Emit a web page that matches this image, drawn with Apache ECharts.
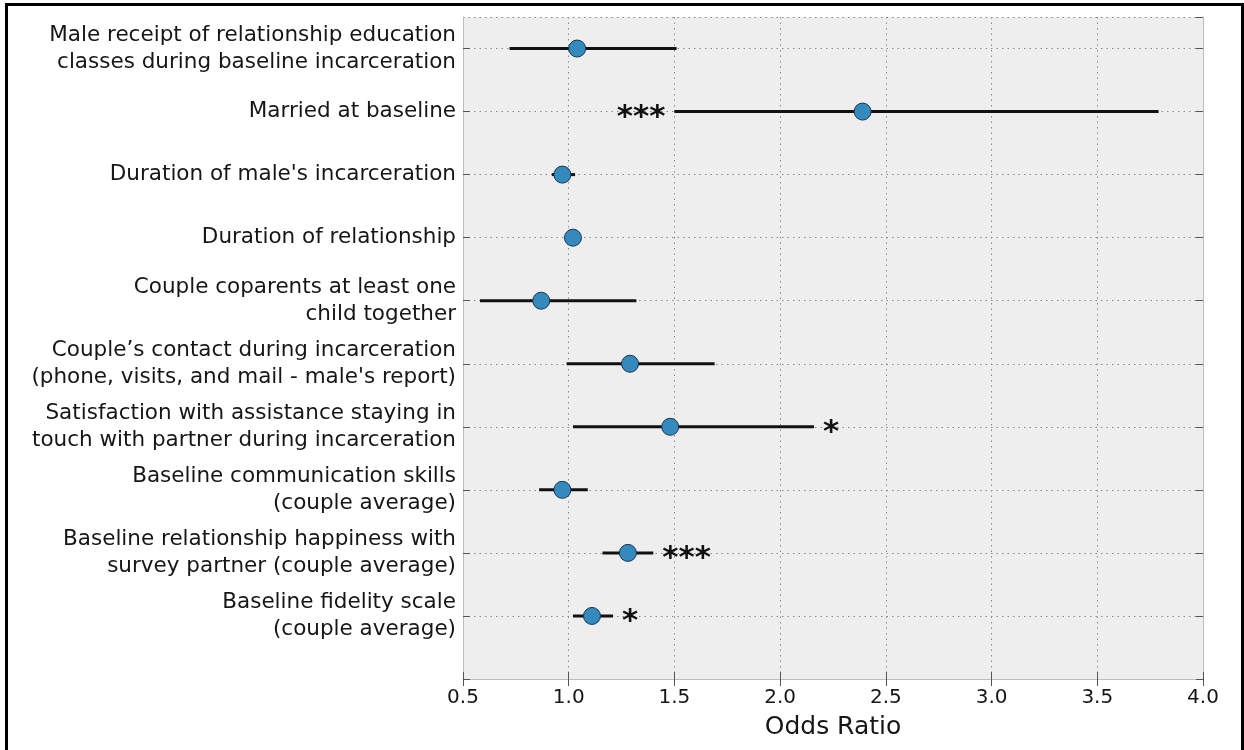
<!DOCTYPE html>
<html>
<head>
<meta charset="utf-8">
<script src="https://cdn.jsdelivr.net/npm/echarts@6/dist/echarts.min.js"></script>
<style>
  html, body { margin: 0; padding: 0; background: #ffffff; }
  #frame {
    position: absolute; left: 5px; top: 3px; width: 1233px; height: 760px;
    border-left: 3px solid #000; border-top: 3px solid #000; border-right: 3px solid #000;
    box-sizing: content-box;
  }
  #chart { position: absolute; left: 0; top: 0; width: 1244px; height: 750px; }
</style>
</head>
<body>
<div id="frame"></div>
<div id="chart"></div>
<script>
// Predictors, top to bottom
const categories = [
  'Male receipt of relationship education\nclasses during baseline incarceration',
  'Married at baseline',
  "Duration of male's incarceration",
  'Duration of relationship',
  'Couple coparents at least one\nchild together',
  'Couple\u2019s contact during incarceration\n(phone, visits, and mail - male\'s report)',
  'Satisfaction with assistance staying in\ntouch with partner during incarceration',
  'Baseline communication skills\n(couple average)',
  'Baseline relationship happiness with\nsurvey partner (couple average)',
  'Baseline fidelity scale\n(couple average)'
];
const oddsRatio = [1.04, 2.39, 0.97, 1.02, 0.87, 1.29, 1.48, 0.97, 1.28, 1.11];
const ciLower   = [0.72, 1.50, 0.92, 0.99, 0.58, 0.99, 1.02, 0.86, 1.16, 1.02];
const ciUpper   = [1.51, 3.79, 1.03, 1.05, 1.32, 1.69, 2.16, 1.09, 1.40, 1.21];
const significance = ['', '***', '', '', '', '', '*', '', '***', '*'];
const xTicks = [0.5, 1.0, 1.5, 2.0, 2.5, 3.0, 3.5, 4.0];

const n = categories.length;
const rowY = i => n - i;  // first predictor drawn at the top

const ciData = categories.map((c, i) => [ciLower[i], ciUpper[i], rowY(i)]);
const pointData = categories.map((c, i) => [oddsRatio[i], rowY(i)]);
const starData = categories.map((c, i) => [ciLower[i], ciUpper[i], rowY(i), significance[i]])
  .filter(d => d[3]);

const FONT = '"DejaVu Sans", "Bitstream Vera Sans", sans-serif';
const tickStyle = { show: true, inside: true, length: 7, lineStyle: { color: '#555', width: 1 } };
const spine = { show: true, lineStyle: { color: '#bdbdbd', width: 1 } };
const gridDots = { show: true, lineStyle: { color: '#8a8a8a', width: 1, type: [1.5, 4] } };

const chart = echarts.init(document.getElementById('chart'), null, { renderer: 'canvas' });

chart.setOption({
  animation: false,
  backgroundColor: 'transparent',
  grid: { left: 463, top: 17, width: 740, height: 662, backgroundColor: '#eeeeee', show: true, borderWidth: 0 },
  xAxis: [
    {
      type: 'value', min: xTicks[0], max: xTicks[xTicks.length - 1], interval: 0.5,
      position: 'bottom',
      name: 'Odds Ratio', nameLocation: 'middle', nameGap: 36,
      nameTextStyle: { fontFamily: FONT, fontSize: 25, color: '#161616' },
      axisLine: spine, axisTick: tickStyle, splitLine: gridDots,
      axisLabel: { fontFamily: FONT, fontSize: 20, color: '#161616', margin: 9,
        formatter: v => v.toFixed(1) }
    },
    {
      type: 'value', min: xTicks[0], max: xTicks[xTicks.length - 1], interval: 0.5,
      position: 'top',
      axisLine: spine, axisTick: tickStyle, splitLine: { show: false }, axisLabel: { show: false }
    }
  ],
  yAxis: [
    {
      type: 'value', min: 0, max: 10.5, interval: 1, position: 'left',
      axisLine: spine, axisTick: tickStyle,
      splitLine: gridDots,
      axisLabel: {
        fontFamily: FONT, fontSize: 21.5, lineHeight: 27, color: '#161616', margin: 7, align: 'right',
        showMaxLabel: false,
        formatter: v => (Number.isInteger(v) && v >= 1 && v <= n) ? categories[n - v] : ''
      }
    },
    {
      type: 'value', min: 0, max: 10.5, interval: 1, position: 'right',
      axisLine: spine, axisTick: tickStyle, splitLine: { show: false }, axisLabel: { show: false }
    }
  ],
  series: [
    {
      // 95% confidence intervals
      type: 'custom',
      data: ciData,
      encode: { x: [0, 1], y: 2 },
      z: 3,
      renderItem: (params, api) => {
        const a = api.coord([api.value(0), api.value(2)]);
        const b = api.coord([api.value(1), api.value(2)]);
        return {
          type: 'line',
          shape: { x1: a[0], y1: a[1], x2: b[0], y2: b[1] },
          style: { stroke: '#111111', lineWidth: 3 }
        };
      }
    },
    {
      // point estimates
      type: 'scatter',
      data: pointData,
      symbol: 'circle',
      symbolSize: 17,
      z: 4,
      itemStyle: { color: '#348abd', borderColor: '#1a3550', borderWidth: 1, opacity: 1 }
    },
    {
      // significance stars beside each interval
      type: 'custom',
      data: starData,
      encode: { x: [0, 1], y: 2 },
      z: 5,
      renderItem: (params, api) => {
        const text = starData[params.dataIndex][3];
        const cs = params.coordSys;
        const hi = api.coord([api.value(1), api.value(2)]);
        const lo = api.coord([api.value(0), api.value(2)]);
        const w = text.length * 16;
        const gap = 9;
        const fitsRight = hi[0] + gap + w < cs.x + cs.width - 5;
        return {
          type: 'text',
          style: {
            text: text,
            x: fitsRight ? hi[0] + gap : lo[0] - gap,
            y: hi[1] + 6,
            align: fitsRight ? 'left' : 'right',
            verticalAlign: 'middle',
            font: 'bold 31px ' + FONT,
            fill: '#111111'
          }
        };
      }
    }
  ]
});
</script>
</body>
</html>
